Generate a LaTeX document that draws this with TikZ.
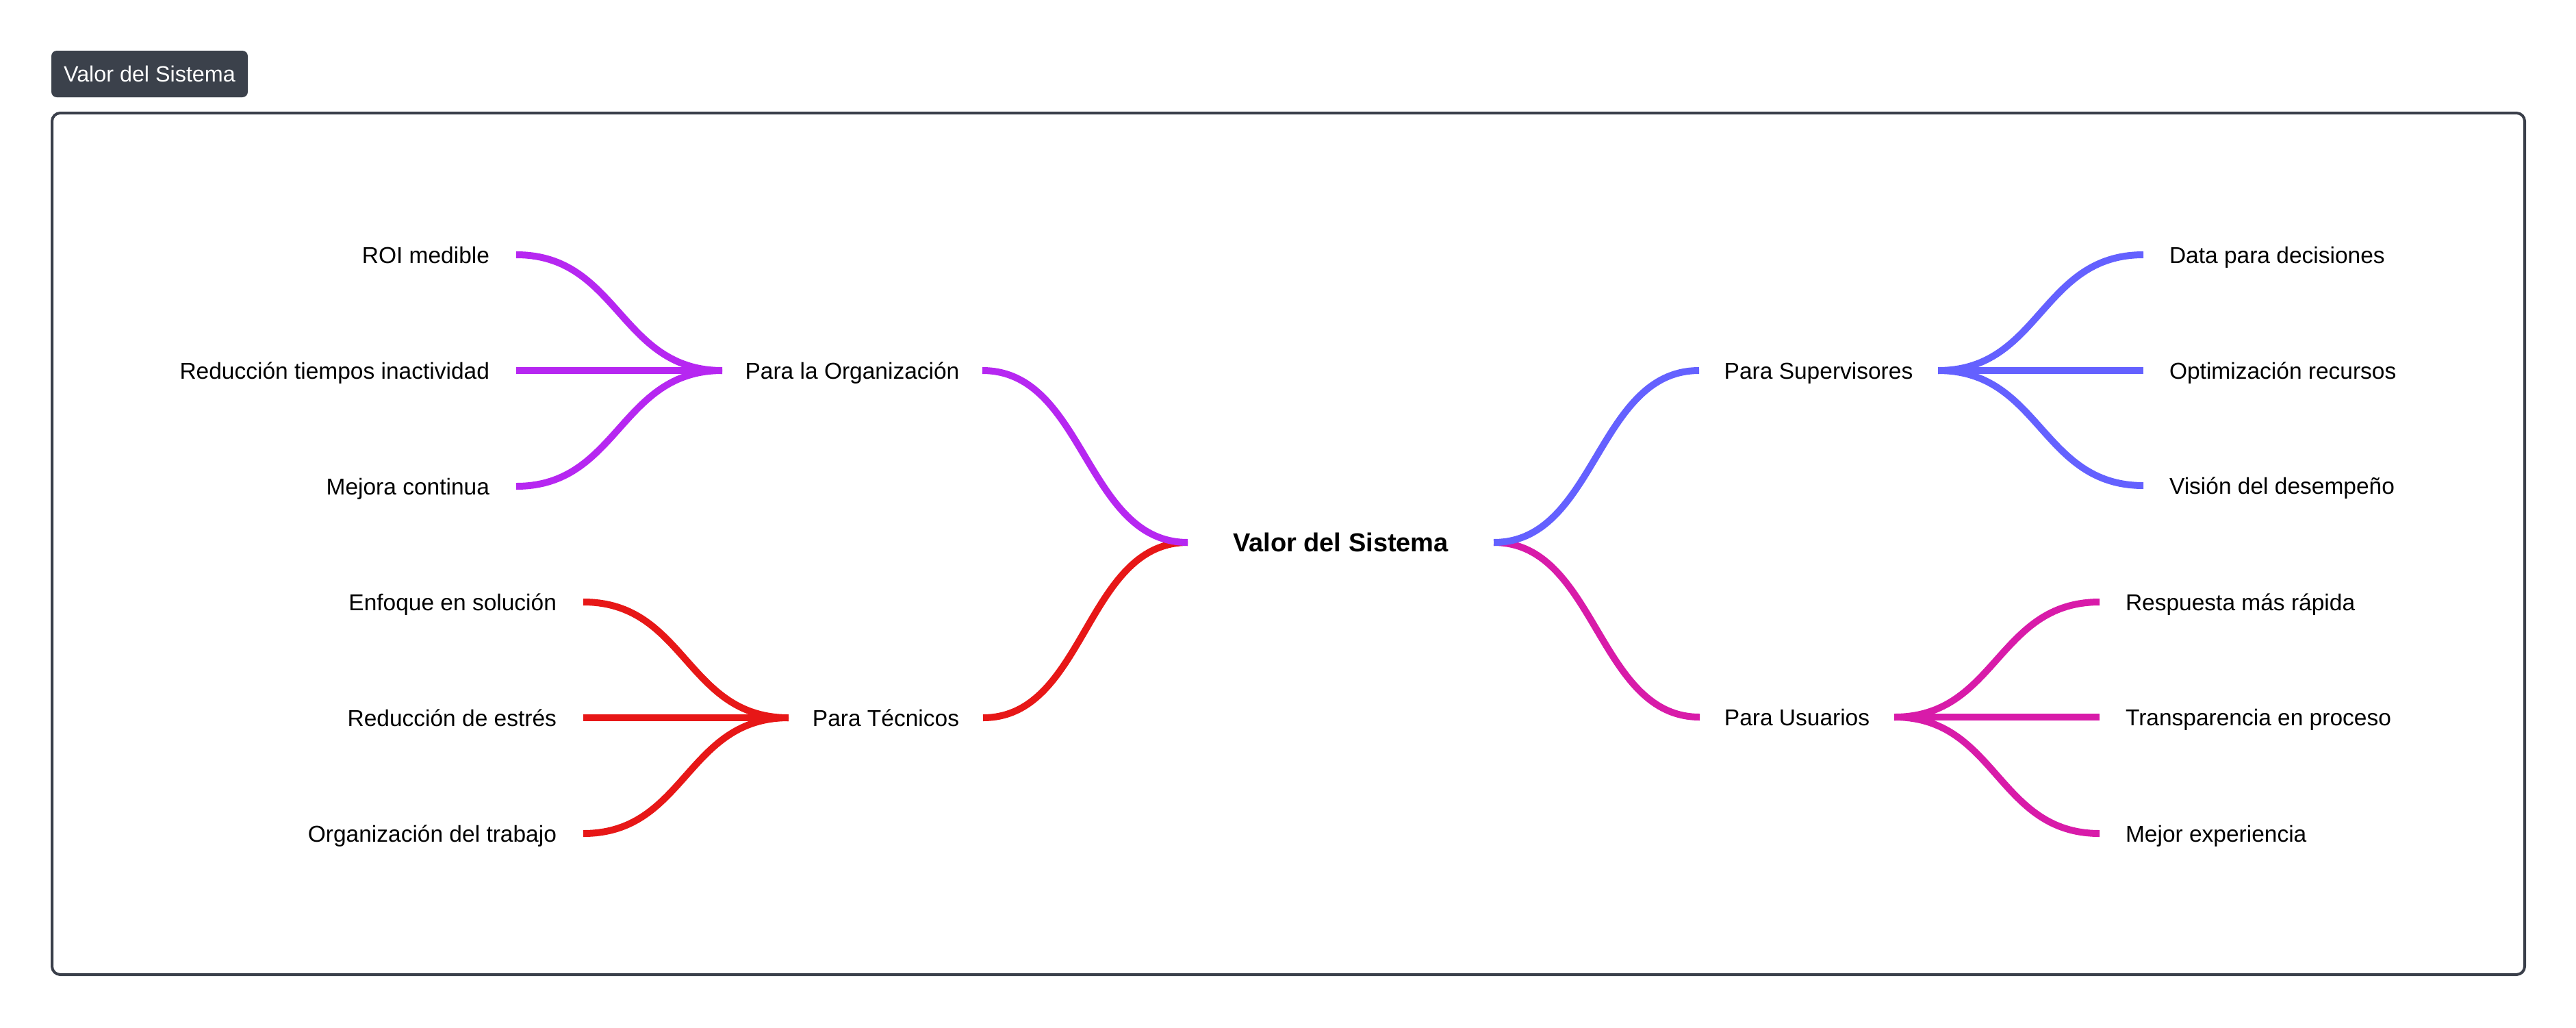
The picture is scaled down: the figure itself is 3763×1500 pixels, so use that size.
\documentclass[tikz,border=0pt]{standalone}
\usepackage{fontspec}
\setmainfont{Liberation Sans}
\definecolor{framec}{HTML}{3A3F4A}
\definecolor{badgec}{HTML}{3B414B}
\definecolor{orgc}{HTML}{B627F1}
\definecolor{tecc}{HTML}{E71717}
\definecolor{supc}{HTML}{6461FF}
\definecolor{usuc}{HTML}{D81BA9}
\begin{document}
\begin{tikzpicture}[x=1pt,y=-1pt,
  every node/.style={inner sep=0pt, outer sep=0pt},
  lbl/.style={font=\fontsize{33.5}{40}\selectfont, text height=24pt, text depth=0pt},
  leafL/.style={lbl, anchor=east, inner xsep=39pt},
  leafR/.style={lbl, anchor=west, inner xsep=38pt},
  branch/.style={lbl, minimum width=#1},
  link/.style={line width=10pt, line cap=butt}
]
\useasboundingbox (0,0) rectangle (3763,1500);

% outer frame and title badge
\draw[framec, line width=4pt, rounded corners=12pt] (76,165) rectangle (3688,1423);
\node[fill=badgec, rounded corners=8pt, minimum width=287pt, minimum height=68pt,
      text=white, font=\fontsize{32.3}{38}\selectfont, text height=23pt, text depth=0pt]
  (badge) at (218.5,108) {Valor del Sistema};

% root
\node[font=\bfseries\fontsize{38}{45}\selectfont, text height=27pt, text depth=0pt,
      minimum width=447pt] (root) at (1958.5,792) {Valor del Sistema};

% first level
\node[branch=380pt] (org) at (1245,541) {Para la Organización};
\node[branch=284pt] (tec) at (1294,1048) {Para Técnicos};
\node[branch=349pt] (sup) at (2656.5,541) {Para Supervisores};
\node[branch=284pt] (usu) at (2625,1047) {Para Usuarios};

% leaves
\node[leafL] (roi) at (754,372) {ROI medible};
\node[leafL] (red) at (754,541) {Reducción tiempos inactividad};
\node[leafL] (mej) at (754,710) {Mejora continua};

\node[leafL] (enf) at (852,879) {Enfoque en solución};
\node[leafL] (est) at (852,1048) {Reducción de estrés};
\node[leafL] (otr) at (852,1217) {Organización del trabajo};

\node[leafR] (dat) at (3131,372) {Data para decisiones};
\node[leafR] (opt) at (3131,541) {Optimización recursos};
\node[leafR] (vis) at (3131,709) {Visión del desempeño};

\node[leafR] (res) at (3067,879) {Respuesta más rápida};
\node[leafR] (tra) at (3067,1047) {Transparencia en proceso};
\node[leafR] (mex) at (3067,1217) {Mejor experiencia};

% connectors (S-curves with horizontal tangents at both ends)
\draw[link, tecc] (enf.east) .. controls +(150,0) and +(-150,0) .. (tec.west);
\draw[link, tecc] (est.east) .. controls +(150,0) and +(-150,0) .. (tec.west);
\draw[link, tecc] (otr.east) .. controls +(150,0) and +(-150,0) .. (tec.west);
\draw[link, tecc] (tec.east) .. controls +(150,0) and +(-150,0) .. (root.west);

\draw[link, orgc] (roi.east) .. controls +(150,0) and +(-150,0) .. (org.west);
\draw[link, orgc] (red.east) .. controls +(150,0) and +(-150,0) .. (org.west);
\draw[link, orgc] (mej.east) .. controls +(150,0) and +(-150,0) .. (org.west);
\draw[link, orgc] (org.east) .. controls +(150,0) and +(-150,0) .. (root.west);

\draw[link, usuc] (root.east) .. controls +(150,0) and +(-150,0) .. (usu.west);
\draw[link, usuc] (usu.east) .. controls +(150,0) and +(-150,0) .. (res.west);
\draw[link, usuc] (usu.east) .. controls +(150,0) and +(-150,0) .. (tra.west);
\draw[link, usuc] (usu.east) .. controls +(150,0) and +(-150,0) .. (mex.west);

\draw[link, supc] (root.east) .. controls +(150,0) and +(-150,0) .. (sup.west);
\draw[link, supc] (sup.east) .. controls +(150,0) and +(-150,0) .. (dat.west);
\draw[link, supc] (sup.east) .. controls +(150,0) and +(-150,0) .. (opt.west);
\draw[link, supc] (sup.east) .. controls +(150,0) and +(-150,0) .. (vis.west);
\end{tikzpicture}
\end{document}
